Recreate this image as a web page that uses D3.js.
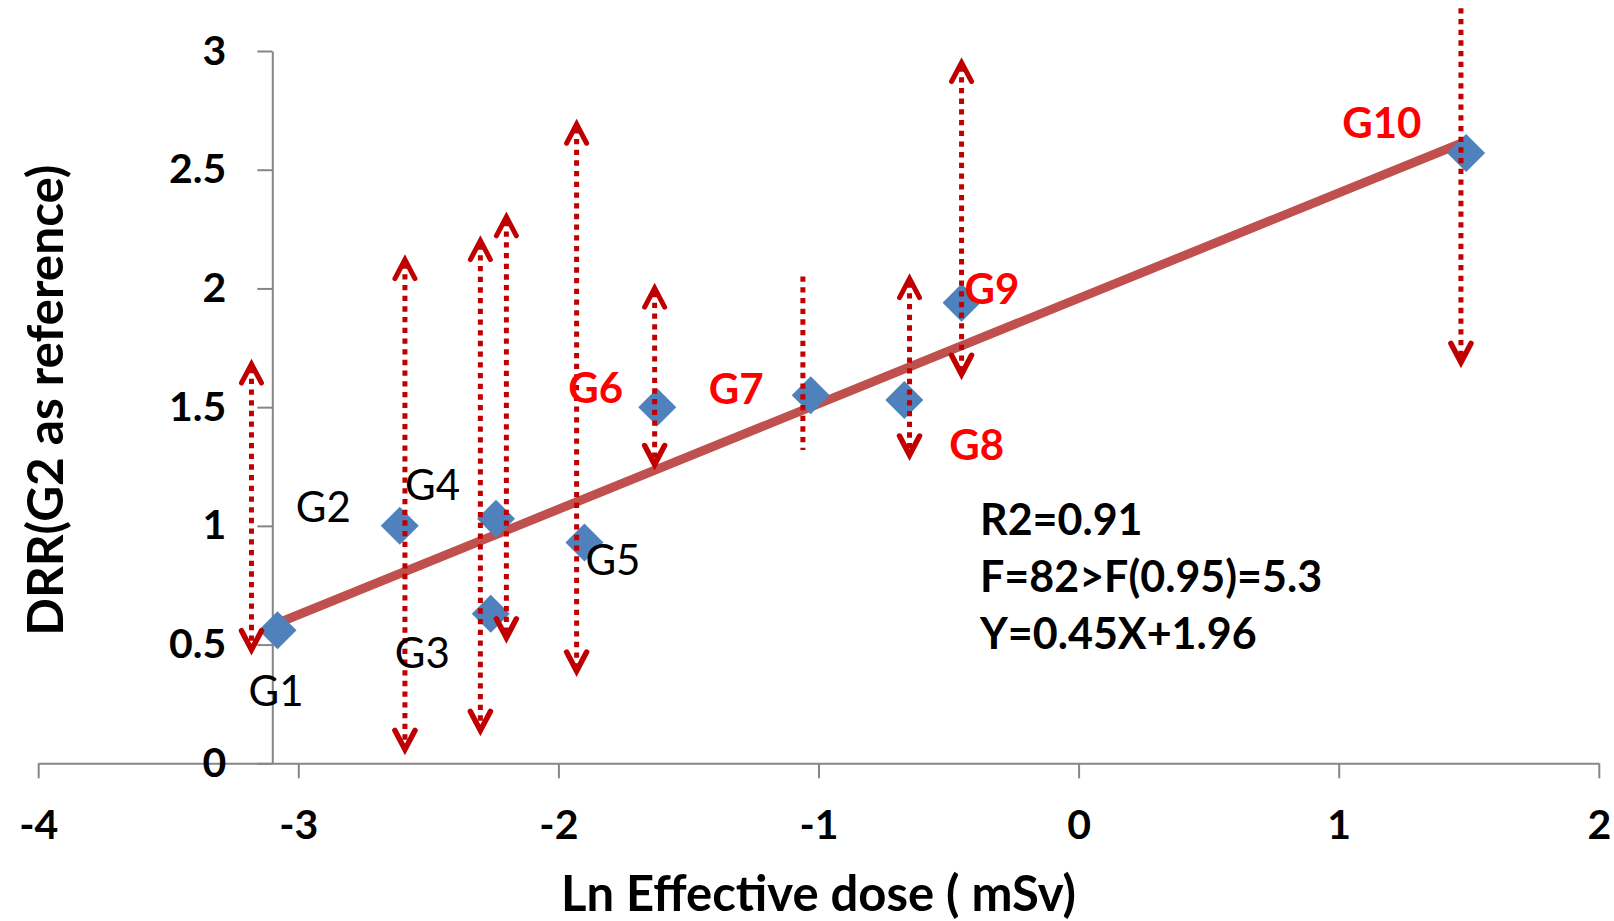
<!DOCTYPE html>
<html>
<head>
<meta charset="utf-8">
<script src="https://cdn.jsdelivr.net/npm/d3@7"></script>
<style>
  html, body { margin: 0; padding: 0; background: #ffffff; }
  svg { display: block; font-family: "Lato", "Liberation Sans", sans-serif; }
</style>
</head>
<body>
<svg id="chart" width="1614" height="921"></svg>
<script>
// ---------- data ----------
const groupNames = ["G1", "G2", "G3", "G4", "G5", "G6", "G7", "G8", "G9", "G10"];
const lnDose = [-3.08, -2.61, -2.26, -2.24, -1.90, -1.62, -1.03, -0.67, -0.45, 1.49];
const drr = [0.56, 1.00, 0.63, 1.03, 0.93, 1.50, 1.55, 1.53, 1.94, 2.57];

// vertical dotted ranges
const rangeX = [-3.18, -2.59, -2.30, -2.20, -1.93, -1.63, -1.06, -0.65, -0.45, 1.47];
const rangeLow = [0.47, 0.05, 0.13, 0.52, 0.38, 1.25, 1.32, 1.29, 1.63, 1.68];
const rangeHigh = [1.69, 2.13, 2.21, 2.31, 2.70, 2.01, 2.05, 2.05, 2.96, 3.18];
const arrowUp = [true, true, true, true, true, true, false, true, true, false];
const arrowDown = [true, true, true, true, true, true, false, true, true, true];

// regression line
const trendX = [-3.08, 1.49];
const trendY = [0.59, 2.62];

const xTicks = [-4, -3, -2, -1, 0, 1, 2];
const xTickLabels = ["-4", "-3", "-2", "-1", "0", "1", "2"];
const yTicks = [0, 0.5, 1, 1.5, 2, 2.5, 3];
const yTickLabels = ["0", "0.5", "1", "1.5", "2", "2.5", "3"];
const yAxisCrossX = -3.1;

const statsLines = ["R2=0.91", "F=82>F(0.95)=5.3", "Y=0.45X+1.96"];
const xTitle = "Ln Effective dose ( mSv)";
const yTitle = "DRR(G2 as reference)";

// ---------- layout / style (not data) ----------
const labelStyle = [
  {dx: -29, dy: 76, red: false},
  {dx: -104, dy: -4, red: false},
  {dx: -96, dy: 54, red: false},
  {dx: -91, dy: -19, red: false},
  {dx: 1, dy: 33, red: false},
  {dx: -89, dy: -4, red: true},
  {dx: -102, dy: 9, red: true},
  {dx: 45, dy: 60, red: true},
  {dx: 3, dy: 1, red: true},
  {dx: -124, dy: -15, red: true}
];

const svg = d3.select("#chart");
const x = d3.scaleLinear().domain([-4, 2]).range([38.2, 1598.8]);
const y = d3.scaleLinear().domain([0, 3]).range([763.3, 51]);

const axisColor = "#868686";

// x axis
const xAxis = svg.append("g")
  .attr("transform", `translate(0,${y(0)})`)
  .call(d3.axisBottom(x).tickValues(xTicks).tickFormat((d, i) => xTickLabels[i])
        .tickSize(15).tickSizeOuter(0).tickPadding(32));
// y axis
const yAxis = svg.append("g")
  .attr("transform", `translate(${x(yAxisCrossX)},0)`)
  .call(d3.axisLeft(y).tickValues(yTicks).tickFormat((d, i) => yTickLabels[i])
        .tickSize(15).tickSizeOuter(0).tickPadding(31));

[xAxis, yAxis].forEach(g => {
  g.select(".domain").attr("stroke", axisColor).attr("stroke-width", 2);
  g.selectAll(".tick line").attr("stroke", axisColor).attr("stroke-width", 2);
  g.selectAll(".tick text")
    .attr("fill", "#000").attr("font-size", 41).attr("font-weight", 700)
    .attr("font-family", "Lato, 'Liberation Sans', sans-serif");
});

// axis titles
svg.append("text")
  .attr("x", (x(-4) + x(2)) / 2).attr("y", 911)
  .attr("text-anchor", "middle").attr("font-size", 49).attr("font-weight", 700)
  .attr("fill", "#000").text(xTitle);

svg.append("text")
  .attr("transform", `translate(63,${(y(0) + y(3)) / 2 - 7}) rotate(-90)`)
  .attr("text-anchor", "middle").attr("font-size", 49.5).attr("font-weight", 700)
  .attr("fill", "#000").text(yTitle);

// trend line
svg.append("line")
  .attr("x1", x(trendX[0])).attr("y1", y(trendY[0]))
  .attr("x2", x(trendX[1])).attr("y2", y(trendY[1]))
  .attr("stroke", "#C0504D").attr("stroke-width", 9);

// diamonds
const pts = lnDose.map((v, i) => ({x: v, y: drr[i], name: groupNames[i], i}));
svg.append("g").selectAll("path").data(pts).join("path")
  .attr("transform", d => `translate(${x(d.x)},${y(d.y)})`)
  .attr("d", "M0,-19L19,0L0,19L-19,0Z")
  .attr("fill", "#4F81BD");

// dotted ranges with arrowheads
const rng = rangeX.map((v, i) => ({x: v, lo: rangeLow[i], hi: rangeHigh[i], up: arrowUp[i], down: arrowDown[i]}));
const rg = svg.append("g");
const red = "#C00000";
rng.forEach(r => {
  const px = x(r.x);
  const yTop = y(r.hi) + (r.up ? 6 : 0);
  const yBot = y(r.lo) - (r.down ? 6 : 0);
  rg.append("line")
    .attr("x1", px).attr("x2", px).attr("y1", yTop).attr("y2", yBot)
    .attr("stroke", red).attr("stroke-width", 5).attr("stroke-dasharray", "5.3 5.4");
  if (r.up) {
    const t = y(r.hi) + 2;
    rg.append("path")
      .attr("d", `M${px - 10},${t + 19}L${px},${t}L${px + 10},${t + 19}`)
      .attr("fill", "none").attr("stroke", red).attr("stroke-width", 5)
      .attr("stroke-linecap", "round").attr("stroke-linejoin", "miter");
  }
  if (r.down) {
    const b = y(r.lo) - 2;
    rg.append("path")
      .attr("d", `M${px - 10},${b - 19}L${px},${b}L${px + 10},${b - 19}`)
      .attr("fill", "none").attr("stroke", red).attr("stroke-width", 5.5)
      .attr("stroke-linecap", "round").attr("stroke-linejoin", "miter");
  }
});

// point labels
svg.append("g").selectAll("text").data(pts).join("text")
  .attr("x", d => x(d.x) + labelStyle[d.i].dx)
  .attr("y", d => y(d.y) + labelStyle[d.i].dy)
  .attr("font-size", 42)
  .attr("font-weight", d => labelStyle[d.i].red ? 700 : 400)
  .attr("fill", d => labelStyle[d.i].red ? "#FF0000" : "#000")
  .text(d => d.name);

// statistics
const st = svg.append("text")
  .attr("x", 980).attr("y", 535)
  .attr("font-size", 43).attr("font-weight", 700).attr("fill", "#000");
statsLines.forEach((s, i) => {
  st.append("tspan").attr("x", 980).attr("y", 535 + i * 57.2).text(s);
});
</script>
</body>
</html>
